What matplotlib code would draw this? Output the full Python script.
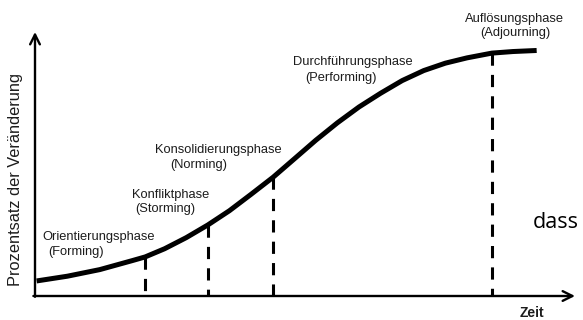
import matplotlib
matplotlib.use("Agg")
import matplotlib.pyplot as plt

# Phase model of team development (Tuckman)
time = [0.3, 6.0, 12.0, 18.0, 20.4, 24.0, 28.0, 32.0, 36.0, 40.0,
        44.1, 48.0, 52.0, 56.0, 60.0, 64.0, 68.0, 72.0, 76.0, 80.0,
        84.6, 88.5, 92.9]
change = [5.7, 7.5, 10.0, 13.4, 14.8, 17.9, 22.1, 26.9, 32.3, 38.5,
          45.0, 51.9, 59.0, 65.6, 71.6, 76.8, 81.6, 85.4, 88.2, 90.2,
          92.0, 92.6, 93.0]

# dashed phase boundaries on the time axis and curve height there
boundary_time = [20.4, 32.0, 44.1, 84.6]
boundary_height = [14.8, 26.9, 45.0, 92.0]

phase_de = ["Orientierungsphase", "Konfliktphase", "Konsolidierungsphase",
            "Durchführungsphase", "Auflösungsphase"]
phase_en = ["(Forming)", "(Storming)", "(Norming)", "(Performing)",
            "(Adjourning)"]

ylabel = "Prozentsatz der Veränderung"
xlabel = "Zeit"
stray_word = "dass"

plt.rcParams["font.family"] = ["Liberation Sans", "DejaVu Sans"]
ink = "#1c1c1c"

fig = plt.figure(figsize=(5.83, 3.2), dpi=100)
ax = fig.add_axes([0, 0, 1, 1])
# origin at pixel (35, 296), axis arrows end at x=575 px and y=32 px
ax.set_xlim(-35 / 5.4, 548 / 5.4)
ax.set_ylim(-24 / 2.64, 296 / 2.64)
ax.axis("off")

# axes with open arrow heads
arrow = dict(arrowstyle="->,head_width=0.35,head_length=0.7", lw=1.7,
             color="black", shrinkA=0, shrinkB=0)
ax.annotate("", xy=(100, 0), xytext=(-0.3, 0), arrowprops=arrow)
ax.annotate("", xy=(0, 100), xytext=(0, -0.3), arrowprops=arrow)

# dashed phase boundaries
for t, h in zip(boundary_time, boundary_height):
    ax.plot([t, t], [h, 0], color="black", lw=2.2,
            linestyle=(0, (4.0, 3.0)), solid_capstyle="butt",
            dash_capstyle="butt", zorder=2)

# S-curve
ax.plot(time, change, color="black", lw=3.6, solid_capstyle="butt",
        solid_joinstyle="round", zorder=3)

# phase labels (German name, English name below, slightly indented)
label_pos = [(1.3, 22.3, 2.4, 16.7),
             (18.0, 38.3, 18.5, 33.0),
             (22.2, 55.3, 25.0, 49.6),
             (47.8, 88.6, 50.0, 82.6),
             (79.6, 104.9, 82.4, 99.6)]
for de, en, (x1, y1, x2, y2) in zip(phase_de, phase_en, label_pos):
    ax.text(x1, y1, de, fontsize=9.3, color=ink, ha="left", va="center")
    ax.text(x2, y2, en, fontsize=9.3, color=ink, ha="left", va="center")

ax.text(-3.7, 44.0, ylabel, rotation=90, fontsize=11.8, color=ink,
        ha="center", va="center")
ax.text(92.0, -6.4, xlabel, fontsize=10, fontweight="bold", color=ink,
        ha="center", va="center")
ax.text(92.2, 25.8, stray_word, fontsize=15.5, color="black",
        family=["Open Sans", "DejaVu Sans"], ha="left", va="baseline")

fig.savefig("out.png", dpi=100)
